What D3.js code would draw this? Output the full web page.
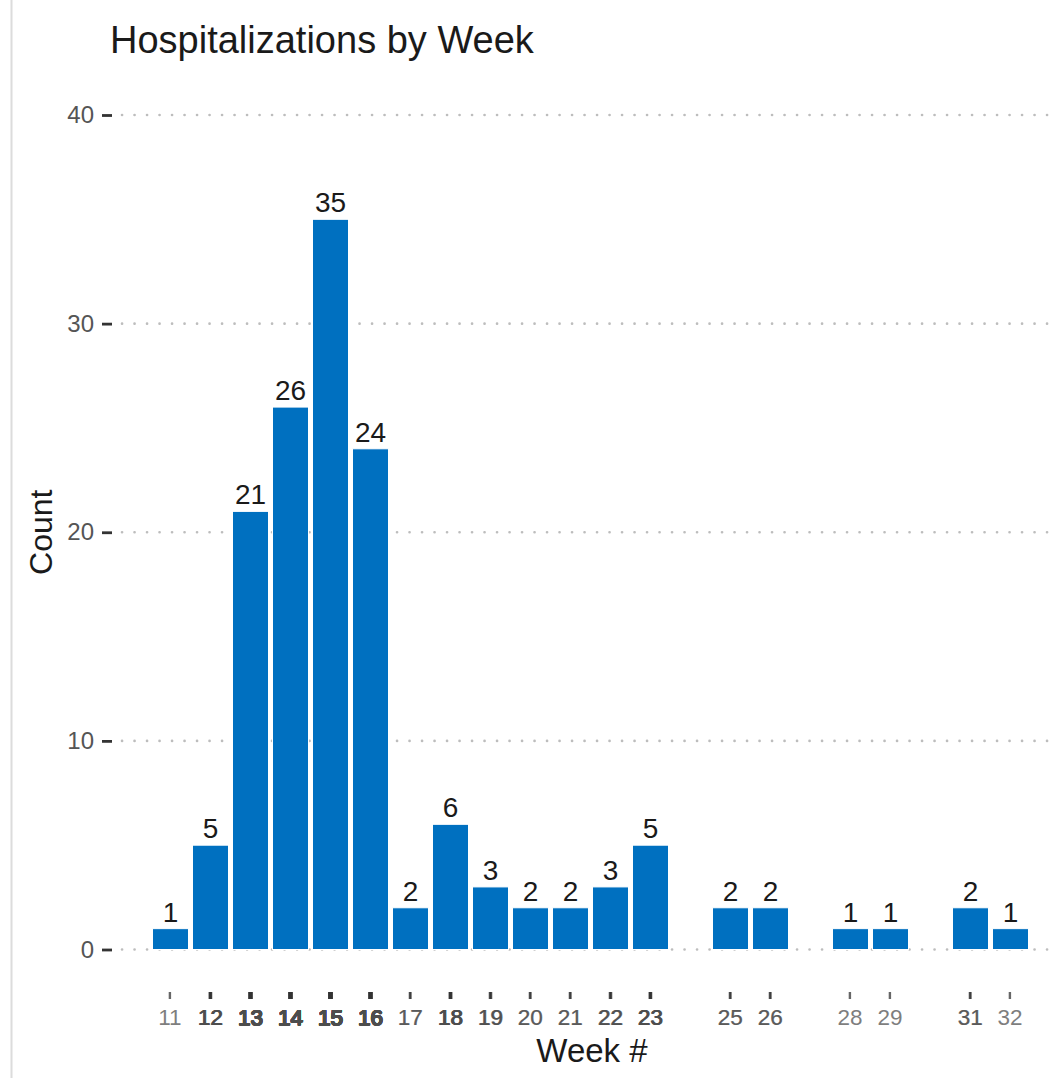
<!DOCTYPE html>
<html>
<head>
<meta charset="utf-8">
<script src="https://cdn.jsdelivr.net/npm/d3@7/dist/d3.min.js"></script>
<style>
  html, body { margin: 0; padding: 0; background: #ffffff; }
  svg { display: block; font-family: "Liberation Sans", Arial, Helvetica, sans-serif; }
  svg text { font-family: "Liberation Sans", Arial, Helvetica, sans-serif; }
</style>
</head>
<body>
<svg id="chart" width="1052" height="1078"></svg>
<script>
// Weekly hospitalization counts
const weeks  = [11, 12, 13, 14, 15, 16, 17, 18, 19, 20, 21, 22, 23, 25, 26, 28, 29, 31, 32];
const counts = [ 1,  5, 21, 26, 35, 24,  2,  6,  3,  2,  2,  3,  5,  2,  2,  1,  1,  2,  1];
const yTicks = [0, 10, 20, 30, 40];

const titleText = "Hospitalizations by Week";
const xTitle = "Week #";
const yTitle = "Count";

const W = 1052, H = 1078;
const panel = { left: 110, right: 1048 };
const barColor = "#0070c0";

const svg = d3.select("#chart");

// Continuous week axis with bars 0.9 wide and 5% expansion
const xMin = d3.min(weeks) - 0.45, xMax = d3.max(weeks) + 0.45;
const pad = (xMax - xMin) * 0.05;
const x = d3.scaleLinear()
  .domain([xMin - pad, xMax + pad])
  .range([108.7, 1072.3]);

const y = d3.scaleLinear()
  .domain([0, 40])
  .range([949.5, 115]);

// frame line on the left edge
svg.append("line")
  .attr("x1", 11.5).attr("x2", 11.5)
  .attr("y1", 0).attr("y2", H)
  .attr("stroke", "#dcdcdc").attr("stroke-width", 2);

// dotted horizontal gridlines
svg.append("g")
  .selectAll("line")
  .data(yTicks)
  .join("line")
  .attr("x1", panel.left + 12).attr("x2", panel.right)
  .attr("y1", d => y(d)).attr("y2", d => y(d))
  .attr("stroke", "#bdbdbd")
  .attr("stroke-width", 2.6)
  .attr("stroke-linecap", "round")
  .attr("stroke-dasharray", "0.1,12.4");

// y axis: tick marks and labels
const yAxis = d3.axisLeft(y).tickValues(yTicks).tickSize(10).tickPadding(8);
const gy = svg.append("g")
  .attr("transform", `translate(${panel.left + 2},0)`)
  .attr("font-family", null)
  .call(yAxis);
gy.attr("font-family", null);
gy.select(".domain").remove();
gy.selectAll(".tick line").attr("stroke", "#333").attr("stroke-width", 2.8);
gy.selectAll(".tick text")
  .attr("fill", "#555")
  .style("font-size", "24px");

// bars
svg.append("g")
  .selectAll("rect")
  .data(weeks.map((w, i) => ({ w, c: counts[i] })))
  .join("rect")
  .attr("x", d => x(d.w - 0.45))
  .attr("width", d => x(d.w + 0.45) - x(d.w - 0.45))
  .attr("y", d => y(d.c))
  .attr("height", d => y(0) - y(d.c))
  .attr("fill", barColor)
  .attr("stroke", "#ffffff")
  .attr("stroke-width", 1);

// value labels above bars
svg.append("g")
  .selectAll("text")
  .data(weeks.map((w, i) => ({ w, c: counts[i] })))
  .join("text")
  .attr("x", d => x(d.w))
  .attr("y", d => y(d.c) - 7)
  .attr("text-anchor", "middle")
  .attr("fill", "#1a1a1a")
  .style("font-size", "28px")
  .text(d => d.c);

// x axis: one tick and label per record, so busy weeks print darker
const records = [];
weeks.forEach((w, i) => {
  for (let k = 0; k < counts[i]; k++) records.push({ w, k });
});
const jx = k => ((k % 3) - 1) * 0.6;
const jy = k => ((Math.floor(k / 3) % 3) - 1) * 0.5;

const gx = svg.append("g");
gx.selectAll("line")
  .data(records)
  .join("line")
  .attr("x1", d => x(d.w) + jx(d.k))
  .attr("x2", d => x(d.w) + jx(d.k))
  .attr("y1", 992).attr("y2", 999)
  .attr("stroke", "#333")
  .attr("stroke-width", 2.4)
  .attr("opacity", 0.75);

gx.selectAll("text")
  .data(records)
  .join("text")
  .attr("x", d => x(d.w) + jx(d.k))
  .attr("y", d => 1025 + jy(d.k))
  .attr("text-anchor", "middle")
  .attr("fill", "#4d4d4d")
  .attr("opacity", 0.72)
  .style("font-size", "22.5px")
  .text(d => d.w);

// axis titles
svg.append("text")
  .attr("x", 592)
  .attr("y", 1062)
  .attr("text-anchor", "middle")
  .attr("fill", "#1a1a1a")
  .style("font-size", "33px")
  .text(xTitle);

svg.append("text")
  .attr("transform", `translate(52,${(y(0) + y(40)) / 2}) rotate(-90)`)
  .attr("text-anchor", "middle")
  .attr("fill", "#1a1a1a")
  .style("font-size", "32px")
  .text(yTitle);

// chart title
svg.append("text")
  .attr("x", 110)
  .attr("y", 53)
  .attr("fill", "#1a1a1a")
  .style("font-size", "38px")
  .text(titleText);
</script>
</body>
</html>
